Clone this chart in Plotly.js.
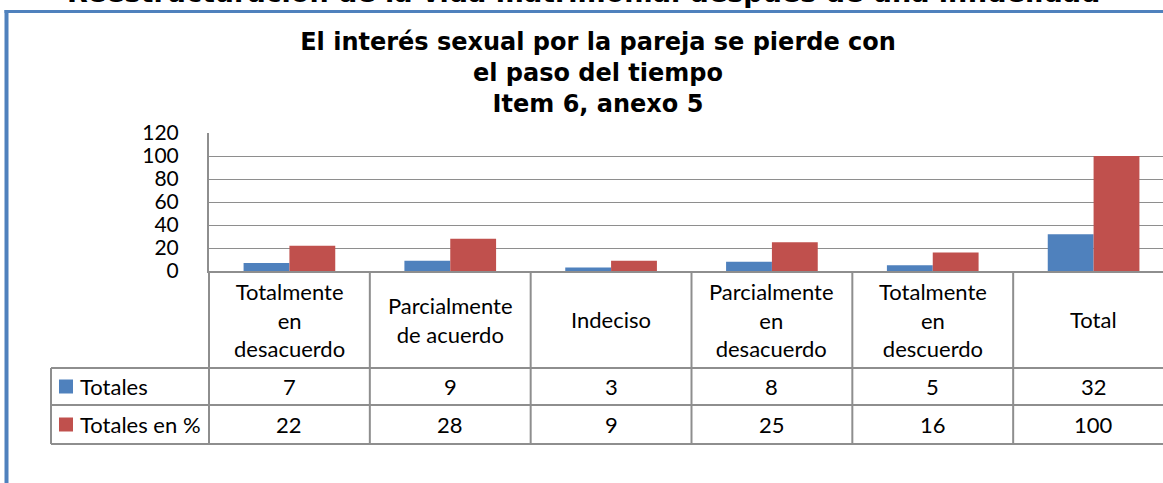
<!DOCTYPE html>
<html><head><meta charset="utf-8">
<script src="https://cdn.plot.ly/plotly-3.0.1.min.js"></script>
<style>html,body{margin:0;padding:0;overflow:hidden;background:#fff}#chart{width:1200px;height:483px}</style>
</head><body><div id="chart"></div>
<script>
// ---- data ----
const categories = ["Totalmente<br>en<br>desacuerdo", "Parcialmente<br>de acuerdo", "Indeciso", "Parcialmente<br>en<br>desacuerdo", "Totalmente<br>en<br>descuerdo", "Total"];
const seriesNames = ["Totales", "Totales en %"];
const totales = [7, 9, 3, 8, 5, 32];
const totalesPct = [22, 28, 9, 25, 16, 100];
const yTickVals = [0, 20, 40, 60, 80, 100, 120];
const chartTitle = "El interés sexual por la pareja se pierde con<br>el paso del tiempo<br>Item 6, anexo 5";
const pageTitle = "Reestructuración de la vida matrimonial después de una infidelidad";

// ---- style / geometry ----
const colors = ["#4F81BD", "#C0504D"];
const W = 1200, H = 483, L = 209, R = 1174, T = 133, B = 271;
const px = x => (x - L) / (R - L);
const py = y => (B - y) / (B - T);
const gridGray = "#8e8e8e";
const tFont = {family: "Lato, Carlito, sans-serif", size: 22, color: "#000"};
const boldFamily = "DejaVu Sans, Liberation Sans, sans-serif";

const series = [totales, totalesPct];
const traces = series.map((vals, k) => ({
  type: "bar", name: seriesNames[k], x: categories, y: vals,
  marker: {color: colors[k], line: {width: 0}}, hoverinfo: "x+y"
}));

const shapes = [];
const annotations = [];
const n = categories.length;
const rowTop = 368, row1 = 405, row2 = 444;
const lineStyle = {color: gridGray, width: 2};

// horizontal table lines
[rowTop, row1, row2].forEach(y => shapes.push({type: "line", xref: "paper", yref: "paper",
  x0: px(51), x1: px(W + 5), y0: py(y), y1: py(y), line: lineStyle}));
// vertical table lines (category boundaries)
for (let i = 0; i <= n; i++) {
  shapes.push({type: "line", xref: "paper", yref: "paper", x0: i / n, x1: i / n,
    y0: py(B), y1: py(row2), line: lineStyle});
}
shapes.push({type: "line", xref: "paper", yref: "paper", x0: px(51), x1: px(51),
  y0: py(rowTop), y1: py(row2), line: lineStyle});

// header labels
categories.forEach((c, i) => annotations.push({xref: "x", yref: "paper", x: c, y: py((B + rowTop) / 2),
  text: c, showarrow: false, font: tFont, xanchor: "center", yanchor: "middle", align: "center"}));
// value rows
const rowCenters = [(rowTop + row1) / 2, (row1 + row2) / 2];
series.forEach((vals, k) => {
  vals.forEach((v, i) => annotations.push({xref: "x", yref: "paper", x: categories[i], y: py(rowCenters[k]),
    text: String(v), showarrow: false, font: tFont, xanchor: "center", yanchor: "middle"}));
  annotations.push({xref: "paper", yref: "paper", x: px(78), y: py(rowCenters[k]), text: seriesNames[k],
    showarrow: false, font: tFont, xanchor: "left", yanchor: "middle"});
  shapes.push({type: "rect", xref: "paper", yref: "paper", x0: px(59), x1: px(73),
    y0: py(rowCenters[k] - 7), y1: py(rowCenters[k] + 7), fillcolor: colors[k], line: {width: 0}});
});

// blue frame
const frame = "#4F81BD";
shapes.push({type: "line", xref: "paper", yref: "paper", x0: px(4.5), x1: px(W + 5), y0: py(11.5), y1: py(11.5), line: {color: frame, width: 3}});
shapes.push({type: "line", xref: "paper", yref: "paper", x0: px(6.5), x1: px(6.5), y0: py(10), y1: py(H + 5), line: {color: frame, width: 4}});

// cut-off page title
annotations.push({xref: "paper", yref: "paper", x: px(583), y: py(10), xanchor: "center", yanchor: "bottom",
  text: pageTitle, showarrow: false, font: {family: boldFamily, size: 27, weight: 700, color: "#000"}});

const layout = {
  width: W, height: H,
  margin: {l: L, r: W - R, t: T, b: H - B, pad: 0},
  paper_bgcolor: "#fff", plot_bgcolor: "#fff",
  showlegend: false,
  bargap: 0.43, bargroupgap: 0, barmode: "group",
  title: {text: chartTitle, x: 598 / W, xref: "container", xanchor: "center",
    y: 1 - 50 / H, yref: "container", yanchor: "top",
    font: {family: boldFamily, size: 24, weight: 700, color: "#000"}},
  xaxis: {type: "category", showticklabels: false, ticks: "", showgrid: false, zeroline: false,
    showline: true, linecolor: gridGray, linewidth: 2, fixedrange: true},
  yaxis: {range: [0, 120], tickvals: yTickVals, ticktext: yTickVals.map(String), ticks: "",
    showgrid: true, gridcolor: gridGray, gridwidth: 1, zeroline: false,
    showline: true, linecolor: gridGray, linewidth: 2, ticklabelstandoff: 24,
    tickfont: {family: "Lato, Carlito, sans-serif", size: 21, color: "#000"}, fixedrange: true},
  shapes: shapes, annotations: annotations
};
Plotly.newPlot("chart", traces, layout, {displayModeBar: false, staticPlot: true});
</script></body></html>
